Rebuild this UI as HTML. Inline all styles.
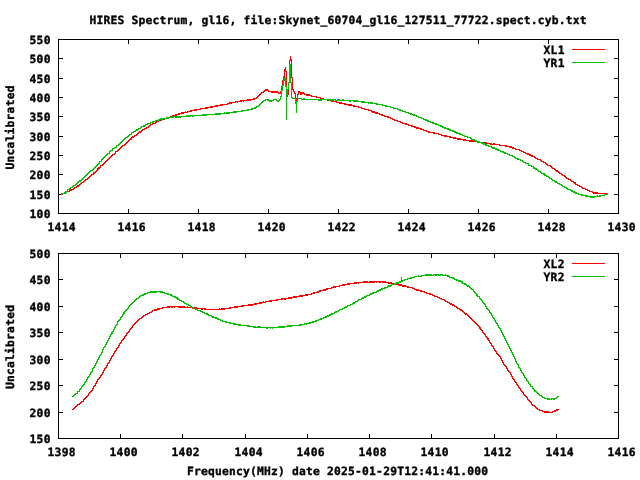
<!DOCTYPE html>
<html lang="en"><head><meta charset="utf-8"><title>HIRES Spectrum</title>
<style>html,body{margin:0;padding:0;background:#fff;overflow:hidden}svg{display:block}</style>
</head><body>
<svg width="640" height="480" viewBox="0 0 640 480">
<rect width="640" height="480" fill="#ffffff"/>
<path shape-rendering="crispEdges" fill="none" stroke="#000" stroke-width="1" d="M58.5 39.5H618.5V213.5H58.5ZM128.5 214v-5M128.5 39v5M198.5 214v-5M198.5 39v5M268.5 214v-5M268.5 39v5M338.5 214v-5M338.5 39v5M408.5 214v-5M408.5 39v5M478.5 214v-5M478.5 39v5M548.5 214v-5M548.5 39v5M58 194.5h5M619 194.5h-5M58 174.5h5M619 174.5h-5M58 155.5h5M619 155.5h-5M58 136.5h5M619 136.5h-5M58 116.5h5M619 116.5h-5M58 97.5h5M619 97.5h-5M58 78.5h5M619 78.5h-5M58 58.5h5M619 58.5h-5"/>
<path shape-rendering="crispEdges" fill="none" stroke="#000" stroke-width="1" d="M58.5 253.5H618.5V438.5H58.5ZM120.5 439v-5M120.5 253v5M182.5 439v-5M182.5 253v5M245.5 439v-5M245.5 253v5M307.5 439v-5M307.5 253v5M369.5 439v-5M369.5 253v5M431.5 439v-5M431.5 253v5M494.5 439v-5M494.5 253v5M556.5 439v-5M556.5 253v5M58 412.5h5M619 412.5h-5M58 385.5h5M619 385.5h-5M58 359.5h5M619 359.5h-5M58 332.5h5M619 332.5h-5M58 306.5h5M619 306.5h-5M58 279.5h5M619 279.5h-5"/>
<g shape-rendering="crispEdges" fill="none" stroke-width="1" stroke-linejoin="round">
<path stroke="#ff0000" d="M61.5 193v2m1 -2v2m1 -2v1m1 -1v1m1 -2v2m1 -3v2m1 -2v1m1 -1v1m1 -2v2m1 -3v2m1 -2v2m1 -2v1m1 -2v2m1 -3v2m1 -2v1m1 -2v2m1 -3v2m1 -2v2m1 -3v2m1 -3v2m1 -3v2m1 -2v1m1 -2v2m1 -3v2m1 -3v2m1 -2v1m1 -2v2m1 -3v2m1 -3v2m1 -3v2m1 -3v2m1 -2v1m1 -3v3m1 -3v2m1 -3v2m1 -3v2m1 -4v3m1 -4v3m1 -3v2m1 -4v3m1 -3v1m1 -2v2m1 -3v2m1 -3v2m1 -3v2m1 -3v2m1 -3v2m1 -3v2m1 -3v2m1 -3v2m1 -3v2m1 -3v2m1 -2v1m1 -2v2m1 -4v3m1 -3v1m1 -2v2m1 -3v2m1 -3v2m1 -3v2m1 -3v2m1 -3v2m1 -2v1m1 -2v2m1 -3v2m1 -3v2m1 -3v2m1 -3v2m1 -3v2m1 -3v2m1 -3v3m1 -4v2m1 -2v2m1 -3v2m1 -2v1m1 -2v2m1 -3v2m1 -3v2m1 -3v2m1 -2v2m1 -3v2m1 -3v2m1 -2v1m1 -2v2m1 -2v1m1 -2v2m1 -2v1m1 -2v2m1 -3v2m1 -3v2m1 -2v1m1 -2v2m1 -2v1m1 -1v1m1 -2v2m1 -3v2m1 -2v1m1 -2v2m1 -2v1m1 -1v1m1 -2v2m1 -2v1m1 -1v1m1 -2v2m1 -2v1m1 -1v1m1 -1v1m1 -2v2m1 -2v1m1 -2v2m1 -2v2m1 -3v2m1 -2v2m1 -2v1m1 -2v2m1 -2v2m1 -2v1m1 -2v2m1 -2v2m1 -2v1m1 -2v2m1 -2v2m1 -2v2m1 -2v1m1 -2v2m1 -1v1m1 -2v2m1 -2v1m1 -1v1m1 -2v2m1 -2v2m1 -2v1m1 -1v1m1 -2v2m1 -2v2m1 -2v2m1 -2v1m1 -1v1m1 -1v1m1 -2v2m1 -2v1m1 -1v1m1 -1v1m1 -1v1m1 -2v2m1 -2v2m1 -2v2m1 -2v1m1 -1v1m1 -2v2m1 -2v2m1 -2v2m1 -2v1m1 -1v1m1 -2v2m1 -2v2m1 -2v2m1 -2v1m1 -1v1m1 -2v2m1 -2v2m1 -2v2m1 -2v1m1 -1v1m1 -1v1m1 -1v1m1 -2v2m1 -2v1m1 -2v2m1 -2v2m1 -2v2m1 -2v1m1 -1v1m1 -1v1m1 -2v2m1 -2v1m1 -1v2m1 -2v1m1 -1v1m1 -2v2m1 -2v2m1 -2v1m1 -1v2m1 -2v1m1 -1v1m1 -1v1m1 -2v2m1 -2v2m1 -2v2m1 -2v2m1 -2v1m1 -1v1m1 -2v2m1 -2v2m1 -2v1m1 -2v2m1 -3v2m1 -3v2m1 -3v2m1 -3v2m1 -3v2m1 -2v1m1 -2v2m1 -3v2m1 -3v2m1 -2v2m1 -2v2m1 -1v2m1 -1v1m1 -1v1m1 -1v2m1 -2v2m1 -2v2m1 -2v2m1 -2v2m1 -2v2m1 -2v2m1 -1v2m1 -1v1m1 -3v3m1 -8v6m1 -12v7m1 -11v5m1 -12v8m1 -10v5m1 -1v21m1 -1v6m1 -15v13m1 -35v23m1 -27v5m1 -2v19m1 -1v13m1 -1v3m1 -1v3m1 -1v9m1 -4v4m1 -8v5m1 -8v4m1 -4v2m1 -1v3m1 -3v3m1 -3v2m1 -2v2m1 -1v2m1 -1v1m1 -1v2m1 -2v2m1 -2v2m1 -2v2m1 -1v1m1 -1v2m1 -1v1m1 -1v1m1 -1v1m1 -1v1m1 -1v2m1 -1v1m1 -1v1m1 -1v1m1 -1v2m1 -1v1m1 -1v2m1 -2v2m1 -1v1m1 -1v1m1 -1v1m1 -1v2m1 -2v2m1 -1v1m1 -1v1m1 -1v2m1 -2v2m1 -1v1m1 -1v1m1 -1v1m1 -1v2m1 -1v1m1 -1v1m1 -1v2m1 -2v2m1 -2v2m1 -1v1m1 -1v1m1 -1v2m1 -2v2m1 -1v1m1 -1v1m1 -1v2m1 -2v2m1 -2v2m1 -2v2m1 -1v1m1 -1v2m1 -2v2m1 -1v1m1 -1v1m1 -1v1m1 -1v2m1 -1v1m1 -1v1m1 -1v2m1 -1v1m1 -1v1m1 -1v2m1 -1v1m1 -1v1m1 -1v1m1 -1v2m1 -1v1m1 -1v1m1 -1v2m1 -1v2m1 -2v2m1 -2v2m1 -1v2m1 -2v2m1 -2v2m1 -1v1m1 -1v2m1 -1v1m1 -1v2m1 -2v2m1 -1v1m1 -1v2m1 -1v1m1 -1v1m1 -1v2m1 -2v2m1 -1v1m1 -1v2m1 -1v1m1 -1v2m1 -1v1m1 -1v2m1 -1v1m1 -1v1m1 -1v2m1 -1v1m1 -1v1m1 -1v2m1 -1v1m1 -1v2m1 -1v1m1 -1v1m1 -1v2m1 -2v2m1 -1v1m1 -1v2m1 -1v1m1 -1v1m1 -1v2m1 -2v2m1 -1v1m1 -1v2m1 -2v2m1 -1v2m1 -2v2m1 -2v2m1 -1v1m1 -1v2m1 -2v2m1 -1v1m1 -1v2m1 -1v1m1 -1v1m1 -1v2m1 -1v1m1 -1v2m1 -2v2m1 -1v1m1 -1v1m1 -1v1m1 -1v2m1 -2v2m1 -1v1m1 -1v1m1 -1v1m1 -1v2m1 -1v1m1 -1v1m1 -1v2m1 -1v1m1 -1v1m1 -1v2m1 -2v2m1 -2v2m1 -1v1m1 -1v1m1 -1v2m1 -2v2m1 -1v1m1 -1v1m1 -1v2m1 -2v2m1 -2v2m1 -1v1m1 -1v2m1 -2v2m1 -2v2m1 -2v2m1 -1v1m1 -1v1m1 -1v2m1 -2v2m1 -2v2m1 -1v1m1 -1v1m1 -1v1m1 -1v2m1 -2v2m1 -2v2m1 -2v2m1 -2v2m1 -2v2m1 -1v1m1 -1v1m1 -1v2m1 -2v2m1 -2v2m1 -1v1m1 -1v1m1 -1v1m1 -1v2m1 -2v2m1 -2v2m1 -2v2m1 -1v1m1 -1v1m1 -1v1m1 -1v2m1 -2v2m1 -1v1m1 -2v2m1 -2v2m1 -1v1m1 -1v1m1 -1v1m1 -1v1m1 -1v2m1 -1v1m1 -1v1m1 -1v1m1 -1v1m1 -1v1m1 -1v2m1 -2v2m1 -1v1m1 -1v1m1 -1v2m1 -2v2m1 -2v2m1 -1v2m1 -2v2m1 -1v1m1 -1v2m1 -1v1m1 -1v1m1 -1v1m1 -1v2m1 -1v1m1 -1v2m1 -1v1m1 -1v2m1 -1v1m1 -1v2m1 -1v1m1 -1v2m1 -2v2m1 -1v2m1 -2v2m1 -1v2m1 -2v2m1 -1v1m1 -1v2m1 -1v2m1 -1v1m1 -1v2m1 -1v1m1 -1v1m1 -1v2m1 -1v2m1 -1v1m1 -1v2m1 -1v1m1 -1v2m1 -1v2m1 -1v2m1 -1v1m1 -1v1m1 -1v2m1 -1v2m1 -1v2m1 -1v1m1 -1v2m1 -1v2m1 -1v2m1 -2v2m1 -1v2m1 -1v2m1 -1v1m1 -1v2m1 -1v2m1 -1v1m1 -1v2m1 -1v2m1 -1v2m1 -1v1m1 -1v2m1 -1v1m1 -1v2m1 -1v2m1 -1v1m1 -1v2m1 -1v2m1 -2v3m1 -1v1m1 -1v2m1 -1v1m1 -1v2m1 -1v1m1 -1v2m1 -1v2m1 -1v1m1 -1v1m1 -1v2m1 -1v1m1 -1v2m1 -1v1m1 -1v2m1 -1v1m1 -1v1m1 -1v2m1 -1v2m1 -2v2m1 -2v2m1 -2v2m1 -2v2m1 -1v1m1 -1v1m1 -1v1m1 -1v1m1 -1v1m1 -1v1m1 -1v1m1 -1v1m1 -1v2m1 -2v2"/>
<path stroke="#00c000" d="M61.5 193v2m1 -2v1m1 -1v1m1 -2v2m1 -3v2m1 -2v2m1 -4v3m1 -3v1m1 -2v2m1 -3v2m1 -2v1m1 -2v2m1 -3v2m1 -2v1m1 -2v2m1 -3v2m1 -3v2m1 -3v2m1 -3v2m1 -2v2m1 -3v2m1 -3v2m1 -3v2m1 -3v2m1 -3v2m1 -3v2m1 -3v2m1 -3v2m1 -3v2m1 -3v2m1 -2v1m1 -2v2m1 -3v2m1 -3v2m1 -3v2m1 -3v2m1 -3v2m1 -3v2m1 -4v3m1 -3v1m1 -3v3m1 -4v2m1 -3v2m1 -3v2m1 -3v2m1 -3v2m1 -3v2m1 -2v1m1 -3v3m1 -4v2m1 -2v1m1 -3v3m1 -3v1m1 -2v2m1 -2v1m1 -3v3m1 -3v1m1 -2v2m1 -3v2m1 -3v2m1 -3v2m1 -3v2m1 -3v2m1 -3v2m1 -3v2m1 -2v1m1 -2v2m1 -3v2m1 -3v2m1 -2v1m1 -3v3m1 -3v1m1 -2v2m1 -2v1m1 -2v2m1 -3v2m1 -2v2m1 -3v2m1 -2v1m1 -2v2m1 -3v2m1 -2v1m1 -2v2m1 -2v2m1 -3v2m1 -2v1m1 -2v2m1 -2v1m1 -1v1m1 -2v2m1 -2v1m1 -2v2m1 -2v2m1 -2v1m1 -2v2m1 -2v1m1 -1v1m1 -2v2m1 -2v1m1 -2v2m1 -2v2m1 -2v2m1 -2v1m1 -1v1m1 -1v1m1 -2v2m1 -2v2m1 -2v2m1 -2v1m1 -1v1m1 -1v1m1 -2v2m1 -2v2m1 -2v1m1 -1v2m1 -2v2m1 -2v2m1 -2v2m1 -2v2m1 -2v2m1 -2v1m1 -1v1m1 -1v1m1 -1v1m1 -1v1m1 -2v2m1 -2v2m1 -2v2m1 -2v2m1 -2v2m1 -2v1m1 -1v2m1 -2v2m1 -2v1m1 -1v1m1 -1v1m1 -1v1m1 -1v1m1 -1v1m1 -1v1m1 -1v1m1 -2v2m1 -2v2m1 -2v2m1 -2v2m1 -2v2m1 -2v1m1 -1v1m1 -1v1m1 -1v1m1 -1v1m1 -1v1m1 -1v1m1 -1v1m1 -2v2m1 -2v2m1 -2v2m1 -2v2m1 -2v2m1 -2v2m1 -2v1m1 -1v1m1 -1v1m1 -2v2m1 -1v1m1 -2v2m1 -2v2m1 -2v2m1 -2v2m1 -2v1m1 -1v1m1 -1v1m1 -2v2m1 -2v2m1 -2v2m1 -2v2m1 -2v1m1 -1v1m1 -1v1m1 -1v1m1 -2v2m1 -2v2m1 -2v1m1 -1v1m1 -1v1m1 -1v1m1 -2v2m1 -2v2m1 -2v1m1 -1v1m1 -2v2m1 -2v2m1 -2v1m1 -2v2m1 -2v2m1 -3v2m1 -2v1m1 -2v2m1 -3v2m1 -3v2m1 -3v2m1 -3v2m1 -3v2m1 -2v1m1 -2v2m1 -2v1m1 -1v2m1 -2v2m1 -1v2m1 -2v2m1 -2v2m1 -2v1m1 -2v2m1 -2v1m1 -1v1m1 -1v2m1 -1v2m1 -2v2m1 -3v2m1 -5v4m1 -10v7m1 -12v6m1 -11v6m1 -9v4m1 -4v10m1 -1v34m1 -31v6m1 -13v8m1 -26v19m1 -19v19m1 -1v16m1 -1v2m1 -1v1m1 -1v1m1 -1v6m1 -3v12m1 -15v4m1 -4v1m1 -1v1m1 -1v1m1 -1v2m1 -1v1m1 -2v2m1 -2v2m1 -1v1m1 -1v1m1 -1v1m1 -1v1m1 -1v1m1 -1v1m1 -1v1m1 -1v1m1 -1v1m1 -1v1m1 -1v1m1 -1v1m1 -1v1m1 -1v2m1 -2v2m1 -2v2m1 -2v2m1 -2v1m1 -1v1m1 -1v1m1 -1v1m1 -1v1m1 -1v1m1 -1v2m1 -2v2m1 -2v1m1 -1v2m1 -2v2m1 -2v2m1 -2v1m1 -1v2m1 -1v1m1 -2v2m1 -2v2m1 -2v2m1 -1v1m1 -1v1m1 -2v2m1 -2v2m1 -1v1m1 -1v1m1 -1v1m1 -1v1m1 -1v1m1 -1v2m1 -2v2m1 -2v1m1 -1v1m1 -1v2m1 -2v2m1 -2v2m1 -2v2m1 -2v2m1 -1v1m1 -1v1m1 -1v1m1 -1v2m1 -2v2m1 -2v2m1 -2v2m1 -1v1m1 -1v1m1 -1v1m1 -1v2m1 -2v1m1 -1v2m1 -2v2m1 -2v2m1 -1v1m1 -1v1m1 -1v1m1 -1v2m1 -2v2m1 -1v1m1 -1v1m1 -1v1m1 -1v1m1 -1v2m1 -1v1m1 -1v1m1 -1v2m1 -2v2m1 -1v1m1 -1v1m1 -1v1m1 -1v2m1 -1v1m1 -1v1m1 -1v2m1 -1v1m1 -1v1m1 -1v1m1 -1v2m1 -1v1m1 -1v2m1 -2v2m1 -1v1m1 -1v2m1 -1v1m1 -1v1m1 -1v2m1 -1v1m1 -1v1m1 -1v2m1 -1v1m1 -1v2m1 -2v2m1 -1v1m1 -1v2m1 -2v2m1 -1v1m1 -1v2m1 -1v1m1 -1v2m1 -1v1m1 -1v1m1 -1v2m1 -1v1m1 -1v2m1 -1v1m1 -1v2m1 -2v2m1 -1v2m1 -2v2m1 -1v1m1 -1v2m1 -1v1m1 -1v2m1 -2v2m1 -1v1m1 -1v2m1 -2v2m1 -1v1m1 -1v2m1 -1v1m1 -1v2m1 -2v2m1 -1v2m1 -2v2m1 -1v2m1 -2v2m1 -1v1m1 -1v2m1 -2v2m1 -1v2m1 -2v2m1 -1v1m1 -1v2m1 -2v2m1 -1v2m1 -2v2m1 -1v2m1 -2v2m1 -1v1m1 -1v2m1 -2v2m1 -1v1m1 -1v2m1 -1v1m1 -1v2m1 -1v1m1 -1v1m1 -1v2m1 -1v1m1 -1v1m1 -1v2m1 -1v2m1 -1v1m1 -1v1m1 -1v2m1 -1v1m1 -1v2m1 -1v1m1 -1v2m1 -2v2m1 -1v1m1 -1v2m1 -2v2m1 -1v2m1 -2v2m1 -1v2m1 -2v2m1 -1v1m1 -1v2m1 -1v1m1 -1v1m1 -1v2m1 -1v2m1 -2v2m1 -2v2m1 -1v2m1 -2v2m1 -1v2m1 -2v2m1 -1v1m1 -1v2m1 -1v1m1 -1v2m1 -2v2m1 -1v2m1 -2v2m1 -1v1m1 -1v2m1 -1v1m1 -1v2m1 -1v1m1 -1v1m1 -1v2m1 -1v1m1 -1v2m1 -1v2m1 -1v1m1 -1v2m1 -2v2m1 -1v1m1 -1v2m1 -1v1m1 -1v2m1 -1v2m1 -1v1m1 -1v2m1 -1v1m1 -1v1m1 -1v3m1 -1v1m1 -1v1m1 -1v2m1 -1v1m1 -1v3m1 -2v2m1 -1v2m1 -2v2m1 -1v2m1 -1v2m1 -1v1m1 -1v2m1 -1v2m1 -1v1m1 -1v2m1 -2v3m1 -2v2m1 -1v2m1 -1v1m1 -1v2m1 -1v2m1 -1v1m1 -1v2m1 -1v2m1 -1v1m1 -1v2m1 -1v2m1 -2v2m1 -1v2m1 -1v1m1 -1v2m1 -1v1m1 -1v2m1 -1v2m1 -1v1m1 -1v2m1 -1v1m1 -1v2m1 -1v2m1 -1v1m1 -1v1m1 -1v2m1 -1v2m1 -2v2m1 -1v2m1 -2v2m1 -1v2m1 -2v2m1 -1v1m1 -1v2m1 -1v1m1 -1v1m1 -1v2m1 -2v2m1 -1v1m1 -1v1m1 -1v2m1 -2v2m1 -2v2m1 -1v1m1 -1v1m1 -1v2m1 -2v2m1 -2v2m1 -2v2m1 -2v2m1 -2v1m1 -1v1m1 -2v2m1 -1v1m1 -2v2m1 -2v2m1 -2v1m1 -1v1m1 -1v1m1 -2v2m1 -2v1m1 -1v1m1 -2v2"/>
<path stroke="#ff0000" d="M72.5 409v1m1 -2v2m1 -3v2m1 -3v2m1 -3v2m1 -3v2m1 -2v1m1 -2v2m1 -3v2m1 -3v2m1 -2v1m1 -3v3m1 -4v2m1 -3v2m1 -3v2m1 -3v2m1 -4v3m1 -4v2m1 -3v2m1 -3v2m1 -4v3m1 -5v3m1 -4v2m1 -4v3m1 -5v3m1 -5v3m1 -4v2m1 -3v2m1 -4v3m1 -4v2m1 -4v3m1 -5v3m1 -5v3m1 -4v2m1 -4v3m1 -5v3m1 -4v2m1 -4v3m1 -5v3m1 -5v3m1 -4v2m1 -4v3m1 -5v3m1 -4v2m1 -4v3m1 -4v2m1 -4v3m1 -5v3m1 -4v2m1 -4v3m1 -4v2m1 -3v2m1 -4v3m1 -4v2m1 -4v3m1 -4v2m1 -3v2m1 -4v3m1 -4v2m1 -3v2m1 -4v3m1 -4v2m1 -3v2m1 -3v2m1 -3v2m1 -3v2m1 -3v2m1 -3v2m1 -2v1m1 -2v2m1 -3v2m1 -3v2m1 -2v1m1 -2v2m1 -2v1m1 -2v2m1 -2v1m1 -2v2m1 -2v1m1 -2v2m1 -3v2m1 -2v1m1 -2v2m1 -2v2m1 -2v2m1 -3v2m1 -2v2m1 -2v2m1 -2v1m1 -1v1m1 -2v2m1 -2v1m1 -1v1m1 -1v1m1 -1v1m1 -2v2m1 -2v2m1 -2v2m1 -2v1m1 -1v2m1 -2v2m1 -2v1m1 -1v2m1 -2v1m1 -1v1m1 -1v1m1 -1v2m1 -2v2m1 -2v2m1 -2v2m1 -2v2m1 -2v2m1 -2v2m1 -1v1m1 -1v1m1 -2v2m1 -1v1m1 -1v1m1 -1v1m1 -1v1m1 -1v2m1 -2v2m1 -2v2m1 -2v1m1 -1v2m1 -1v1m1 -1v1m1 -1v1m1 -1v1m1 -1v2m1 -2v2m1 -2v1m1 -1v2m1 -2v2m1 -1v1m1 -1v1m1 -1v1m1 -1v1m1 -1v1m1 -1v1m1 -1v1m1 -1v1m1 -1v1m1 -1v1m1 -1v1m1 -1v1m1 -1v1m1 -2v2m1 -1v1m1 -2v2m1 -2v2m1 -2v2m1 -2v2m1 -2v1m1 -1v1m1 -1v1m1 -1v1m1 -2v2m1 -2v2m1 -2v1m1 -1v1m1 -1v1m1 -2v2m1 -2v2m1 -2v2m1 -2v2m1 -2v1m1 -1v1m1 -1v1m1 -2v2m1 -2v2m1 -2v2m1 -2v1m1 -1v1m1 -1v1m1 -1v1m1 -2v2m1 -2v2m1 -2v2m1 -2v2m1 -2v2m1 -2v1m1 -2v2m1 -2v2m1 -2v2m1 -2v1m1 -1v1m1 -2v2m1 -2v2m1 -2v2m1 -2v1m1 -2v2m1 -1v1m1 -2v2m1 -2v1m1 -1v1m1 -1v1m1 -2v2m1 -2v2m1 -2v2m1 -2v1m1 -1v1m1 -1v1m1 -1v1m1 -2v2m1 -2v2m1 -2v1m1 -1v1m1 -1v1m1 -2v2m1 -2v2m1 -2v1m1 -1v2m1 -2v2m1 -2v1m1 -1v1m1 -2v2m1 -2v2m1 -2v2m1 -2v2m1 -2v1m1 -2v2m1 -2v2m1 -2v2m1 -2v2m1 -2v1m1 -1v1m1 -2v2m1 -2v2m1 -2v2m1 -2v2m1 -2v1m1 -1v1m1 -2v2m1 -2v2m1 -2v2m1 -2v1m1 -1v1m1 -1v1m1 -2v2m1 -2v1m1 -2v2m1 -2v2m1 -2v1m1 -1v1m1 -2v2m1 -2v2m1 -3v2m1 -2v2m1 -2v1m1 -1v1m1 -2v2m1 -2v2m1 -2v2m1 -3v2m1 -2v2m1 -2v1m1 -1v1m1 -1v1m1 -2v2m1 -2v1m1 -2v2m1 -2v2m1 -2v2m1 -2v1m1 -1v1m1 -1v1m1 -2v2m1 -2v1m1 -1v1m1 -2v2m1 -2v2m1 -2v2m1 -2v1m1 -1v1m1 -2v2m1 -2v2m1 -2v2m1 -2v1m1 -1v1m1 -1v1m1 -1v1m1 -2v2m1 -2v2m1 -2v2m1 -2v1m1 -1v2m1 -2v1m1 -1v1m1 -1v1m1 -1v1m1 -2v2m1 -2v2m1 -2v2m1 -2v2m1 -2v2m1 -1v1m1 -2v2m1 -2v2m1 -2v2m1 -2v2m1 -2v2m1 -2v2m1 -2v1m1 -1v2m1 -2v1m1 -1v1m1 -1v2m1 -2v2m1 -2v1m1 -1v2m1 -2v2m1 -2v2m1 -2v2m1 -1v1m1 -1v1m1 -1v2m1 -2v2m1 -2v2m1 -2v2m1 -1v1m1 -1v2m1 -2v2m1 -2v2m1 -2v2m1 -1v1m1 -1v2m1 -2v2m1 -2v2m1 -2v2m1 -1v2m1 -2v2m1 -2v2m1 -2v2m1 -1v1m1 -1v2m1 -2v2m1 -1v1m1 -1v1m1 -1v1m1 -1v2m1 -1v1m1 -1v2m1 -1v1m1 -1v2m1 -2v2m1 -2v2m1 -1v1m1 -1v2m1 -2v2m1 -1v1m1 -1v1m1 -1v2m1 -1v1m1 -1v2m1 -1v1m1 -1v1m1 -1v2m1 -2v2m1 -1v1m1 -1v2m1 -1v1m1 -1v2m1 -1v1m1 -1v1m1 -1v2m1 -1v1m1 -1v2m1 -1v1m1 -1v2m1 -1v1m1 -1v1m1 -1v2m1 -1v2m1 -1v1m1 -1v2m1 -1v1m1 -1v2m1 -1v2m1 -2v2m1 -1v2m1 -2v2m1 -1v2m1 -1v1m1 -1v2m1 -1v2m1 -1v1m1 -1v2m1 -1v2m1 -2v2m1 -1v2m1 -1v2m1 -1v2m1 -1v2m1 -2v2m1 -1v2m1 -1v2m1 -1v2m1 -1v2m1 -1v2m1 -1v2m1 -1v2m1 -1v2m1 -1v2m1 -1v2m1 -1v2m1 -1v2m1 -1v3m1 -2v3m1 -1v2m1 -1v3m1 -1v2m1 -1v2m1 -1v3m1 -1v2m1 -1v3m1 -2v3m1 -1v3m1 -1v2m1 -1v3m1 -1v2m1 -1v3m1 -1v3m1 -1v2m1 -1v3m1 -1v2m1 -1v2m1 -1v2m1 -1v3m1 -1v3m1 -1v3m1 -1v3m1 -1v2m1 -1v2m1 -1v3m1 -1v3m1 -1v2m1 -1v2m1 -1v3m1 -1v3m1 -1v3m1 -1v2m1 -1v3m1 -1v2m1 -1v3m1 -1v2m1 -1v3m1 -1v2m1 -1v3m1 -1v2m1 -1v2m1 -1v3m1 -1v2m1 -1v2m1 -1v2m1 -1v3m1 -1v2m1 -1v2m1 -1v2m1 -1v3m1 -1v2m1 -1v1m1 -1v2m1 -1v2m1 -1v2m1 -1v2m1 -1v1m1 -1v2m1 -1v1m1 -1v1m1 -1v2m1 -1v1m1 -1v2m1 -2v2m1 -2v2m1 -2v2m1 -2v2m1 -1v1m1 -1v1m1 -1v1m1 -2v2m1 -2v1m1 -2v2m1 -2v2m1 -3v2m1 -2v2m1 -2v1"/>
<path stroke="#00c000" d="M72.5 396v1m1 -2v2m1 -3v2m1 -3v2m1 -2v1m1 -3v3m1 -3v1m1 -3v3m1 -4v2m1 -4v3m1 -4v2m1 -3v2m1 -4v3m1 -4v2m1 -4v3m1 -5v3m1 -4v2m1 -4v3m1 -5v3m1 -4v2m1 -5v4m1 -5v2m1 -4v3m1 -5v3m1 -5v3m1 -5v3m1 -5v3m1 -5v3m1 -4v2m1 -4v3m1 -6v4m1 -6v3m1 -4v2m1 -4v3m1 -5v3m1 -5v3m1 -5v3m1 -5v3m1 -5v3m1 -5v3m1 -4v3m1 -5v3m1 -5v3m1 -5v3m1 -4v2m1 -5v4m1 -5v2m1 -3v2m1 -4v3m1 -4v2m1 -4v3m1 -5v3m1 -4v3m1 -4v2m1 -3v2m1 -3v2m1 -4v3m1 -4v2m1 -3v2m1 -3v2m1 -3v2m1 -3v2m1 -3v2m1 -3v2m1 -3v2m1 -2v1m1 -2v2m1 -3v2m1 -3v2m1 -2v1m1 -2v2m1 -2v2m1 -3v2m1 -2v2m1 -2v1m1 -2v2m1 -2v1m1 -1v1m1 -2v2m1 -2v2m1 -2v2m1 -2v2m1 -2v2m1 -2v2m1 -2v2m1 -2v1m1 -1v1m1 -1v1m1 -1v2m1 -2v2m1 -2v2m1 -1v1m1 -1v2m1 -1v1m1 -1v1m1 -1v2m1 -2v2m1 -1v1m1 -1v2m1 -2v2m1 -1v2m1 -1v1m1 -1v2m1 -2v2m1 -1v2m1 -2v3m1 -2v2m1 -1v2m1 -1v1m1 -1v2m1 -1v1m1 -1v2m1 -1v2m1 -1v1m1 -1v2m1 -1v1m1 -1v2m1 -1v1m1 -1v2m1 -1v2m1 -1v1m1 -1v2m1 -1v1m1 -1v2m1 -1v1m1 -1v2m1 -1v1m1 -1v1m1 -1v2m1 -1v1m1 -1v2m1 -1v1m1 -1v2m1 -1v1m1 -1v2m1 -2v2m1 -1v2m1 -1v1m1 -1v1m1 -1v2m1 -1v2m1 -2v2m1 -1v1m1 -1v2m1 -2v2m1 -1v2m1 -2v2m1 -1v1m1 -1v2m1 -1v1m1 -1v2m1 -1v1m1 -1v1m1 -1v2m1 -2v2m1 -1v1m1 -1v1m1 -1v2m1 -2v2m1 -1v1m1 -1v1m1 -1v2m1 -2v2m1 -2v2m1 -1v1m1 -1v1m1 -1v2m1 -2v2m1 -2v2m1 -1v1m1 -1v1m1 -1v1m1 -1v1m1 -1v1m1 -1v1m1 -1v2m1 -2v2m1 -2v2m1 -1v1m1 -1v1m1 -1v1m1 -1v2m1 -2v2m1 -2v2m1 -1v1m1 -2v2m1 -2v2m1 -2v2m1 -2v2m1 -1v1m1 -1v1m1 -1v1m1 -1v1m1 -1v1m1 -1v2m1 -2v2m1 -2v1m1 -1v1m1 -1v2m1 -2v1m1 -1v2m1 -2v1m1 -1v1m1 -1v1m1 -1v1m1 -1v1m1 -2v2m1 -2v2m1 -2v2m1 -2v2m1 -2v2m1 -2v2m1 -2v2m1 -2v1m1 -1v1m1 -2v2m1 -2v2m1 -2v2m1 -2v2m1 -2v2m1 -2v1m1 -1v1m1 -1v1m1 -1v1m1 -1v1m1 -1v1m1 -1v1m1 -2v2m1 -2v2m1 -2v2m1 -2v1m1 -1v1m1 -2v2m1 -2v1m1 -1v2m1 -2v1m1 -1v1m1 -2v2m1 -2v2m1 -2v1m1 -2v2m1 -2v2m1 -2v1m1 -2v2m1 -2v2m1 -2v1m1 -2v2m1 -2v1m1 -2v2m1 -2v2m1 -2v1m1 -2v2m1 -2v1m1 -2v2m1 -2v2m1 -3v2m1 -2v2m1 -3v2m1 -2v2m1 -3v2m1 -2v2m1 -2v1m1 -2v2m1 -3v2m1 -2v2m1 -2v1m1 -2v2m1 -3v2m1 -2v1m1 -1v1m1 -2v2m1 -2v1m1 -2v2m1 -3v2m1 -2v2m1 -3v2m1 -2v1m1 -1v1m1 -2v2m1 -2v1m1 -2v2m1 -3v2m1 -2v2m1 -3v2m1 -2v1m1 -2v2m1 -3v2m1 -2v1m1 -1v1m1 -2v2m1 -3v2m1 -2v2m1 -3v2m1 -2v2m1 -3v2m1 -2v1m1 -1v1m1 -2v2m1 -3v2m1 -2v2m1 -3v2m1 -2v2m1 -2v1m1 -1v1m1 -2v2m1 -3v2m1 -2v2m1 -3v2m1 -2v2m1 -3v2m1 -2v2m1 -2v1m1 -2v2m1 -2v2m1 -2v1m1 -2v2m1 -3v2m1 -2v2m1 -2v2m1 -3v2m1 -2v1m1 -1v1m1 -2v2m1 -2v2m1 -3v2m1 -2v2m1 -2v2m1 -3v2m1 -2v2m1 -6v5m1 -2v2m1 -2v1m1 -2v2m1 -2v1m1 -1v1m1 -2v2m1 -2v1m1 -1v1m1 -2v2m1 -2v2m1 -2v1m1 -1v1m1 -2v2m1 -2v1m1 -1v1m1 -1v1m1 -2v2m1 -1v1m1 -1v1m1 -2v2m1 -2v1m1 -1v1m1 -1v1m1 -2v2m1 -2v2m1 -2v2m1 -2v2m1 -2v2m1 -2v2m1 -2v2m1 -1v1m1 -2v2m1 -2v1m1 -1v2m1 -2v2m1 -2v1m1 -1v2m1 -2v2m1 -2v2m1 -2v1m1 -1v2m1 -1v1m1 -1v1m1 -2v2m1 -1v1m1 -1v2m1 -2v2m1 -1v2m1 -1v1m1 -1v1m1 -1v2m1 -2v2m1 -1v2m1 -1v1m1 -1v2m1 -2v2m1 -1v2m1 -2v2m1 -2v2m1 -1v2m1 -2v3m1 -1v1m1 -1v2m1 -2v2m1 -1v2m1 -1v2m1 -2v2m1 -1v2m1 -1v2m1 -1v2m1 -1v1m1 -1v3m1 -1v2m1 -1v2m1 -1v3m1 -2v3m1 -1v1m1 -1v3m1 -1v2m1 -1v2m1 -1v3m1 -1v2m1 -1v2m1 -1v3m1 -1v3m1 -1v2m1 -1v2m1 -1v3m1 -1v2m1 -1v3m1 -1v3m1 -1v2m1 -1v3m1 -1v3m1 -1v2m1 -1v3m1 -1v3m1 -1v2m1 -1v3m1 -1v3m1 -1v3m1 -1v3m1 -1v3m1 -1v3m1 -1v3m1 -1v3m1 -1v3m1 -1v3m1 -1v3m1 -1v3m1 -1v3m1 -1v3m1 -1v3m1 -1v4m1 -1v3m1 -1v2m1 -1v4m1 -1v2m1 -1v3m1 -1v3m1 -1v2m1 -1v3m1 -1v3m1 -1v2m1 -1v3m1 -1v2m1 -1v3m1 -1v2m1 -1v3m1 -1v1m1 -1v3m1 -1v2m1 -1v3m1 -2v2m1 -1v2m1 -1v2m1 -1v2m1 -1v2m1 -1v1m1 -1v2m1 -1v2m1 -1v1m1 -1v2m1 -1v1m1 -1v1m1 -1v2m1 -2v2m1 -2v2m1 -1v1m1 -2v2m1 -2v1m1 -1v2m1 -2v2m1 -2v1m1 -2v2m1 -3v2m1 -2v1"/>
<path stroke="#ff0000" d="M572 49.5H605"/>
<path stroke="#00c000" d="M572 62.5H605"/>
<path stroke="#ff0000" d="M572 263.5H605"/>
<path stroke="#00c000" d="M572 276.5H605"/>
</g>
<g font-family="'DejaVu Sans Mono','Liberation Mono',monospace" font-weight="bold" font-size="11.3px" fill="#000" stroke="#000" stroke-width="0.35" text-rendering="geometricPrecision">
<text x="89.5" y="24.0" textLength="497" lengthAdjust="spacing">HIRES Spectrum, gl16, file:Skynet_60704_gl16_127511_77722.spect.cyb.txt</text>
<text x="187.0" y="475.0" textLength="301" lengthAdjust="spacing">Frequency(MHz) date 2025-01-29T12:41:41.000</text>
<text x="29.5" y="218.3" textLength="21" lengthAdjust="spacing">100</text>
<text x="29.5" y="199.3" textLength="21" lengthAdjust="spacing">150</text>
<text x="29.5" y="179.3" textLength="21" lengthAdjust="spacing">200</text>
<text x="29.5" y="160.3" textLength="21" lengthAdjust="spacing">250</text>
<text x="29.5" y="141.3" textLength="21" lengthAdjust="spacing">300</text>
<text x="29.5" y="121.3" textLength="21" lengthAdjust="spacing">350</text>
<text x="29.5" y="102.3" textLength="21" lengthAdjust="spacing">400</text>
<text x="29.5" y="83.3" textLength="21" lengthAdjust="spacing">450</text>
<text x="29.5" y="63.3" textLength="21" lengthAdjust="spacing">500</text>
<text x="29.5" y="44.3" textLength="21" lengthAdjust="spacing">550</text>
<text x="29.5" y="443.3" textLength="21" lengthAdjust="spacing">150</text>
<text x="29.5" y="417.3" textLength="21" lengthAdjust="spacing">200</text>
<text x="29.5" y="390.3" textLength="21" lengthAdjust="spacing">250</text>
<text x="29.5" y="364.3" textLength="21" lengthAdjust="spacing">300</text>
<text x="29.5" y="337.3" textLength="21" lengthAdjust="spacing">350</text>
<text x="29.5" y="311.3" textLength="21" lengthAdjust="spacing">400</text>
<text x="29.5" y="284.3" textLength="21" lengthAdjust="spacing">450</text>
<text x="29.5" y="258.3" textLength="21" lengthAdjust="spacing">500</text>
<text x="47.5" y="230.7" textLength="28" lengthAdjust="spacing">1414</text>
<text x="117.5" y="230.7" textLength="28" lengthAdjust="spacing">1416</text>
<text x="187.5" y="230.7" textLength="28" lengthAdjust="spacing">1418</text>
<text x="257.5" y="230.7" textLength="28" lengthAdjust="spacing">1420</text>
<text x="327.5" y="230.7" textLength="28" lengthAdjust="spacing">1422</text>
<text x="397.5" y="230.7" textLength="28" lengthAdjust="spacing">1424</text>
<text x="467.5" y="230.7" textLength="28" lengthAdjust="spacing">1426</text>
<text x="537.5" y="230.7" textLength="28" lengthAdjust="spacing">1428</text>
<text x="607.5" y="230.7" textLength="28" lengthAdjust="spacing">1430</text>
<text x="47.5" y="455.7" textLength="28" lengthAdjust="spacing">1398</text>
<text x="109.5" y="455.7" textLength="28" lengthAdjust="spacing">1400</text>
<text x="171.5" y="455.7" textLength="28" lengthAdjust="spacing">1402</text>
<text x="234.5" y="455.7" textLength="28" lengthAdjust="spacing">1404</text>
<text x="296.5" y="455.7" textLength="28" lengthAdjust="spacing">1406</text>
<text x="358.5" y="455.7" textLength="28" lengthAdjust="spacing">1408</text>
<text x="420.5" y="455.7" textLength="28" lengthAdjust="spacing">1410</text>
<text x="483.5" y="455.7" textLength="28" lengthAdjust="spacing">1412</text>
<text x="545.5" y="455.7" textLength="28" lengthAdjust="spacing">1414</text>
<text x="607.5" y="455.7" textLength="28" lengthAdjust="spacing">1416</text>
<text transform="translate(14.4 169.5) rotate(-90)" x="0" y="0" textLength="84" lengthAdjust="spacing">Uncalibrated</text>
<text transform="translate(14.4 389.0) rotate(-90)" x="0" y="0" textLength="84" lengthAdjust="spacing">Uncalibrated</text>
<text x="543.5" y="54.0" textLength="21" lengthAdjust="spacing">XL1</text>
<text x="543.5" y="67.0" textLength="21" lengthAdjust="spacing">YR1</text>
<text x="543.5" y="268.0" textLength="21" lengthAdjust="spacing">XL2</text>
<text x="543.5" y="281.0" textLength="21" lengthAdjust="spacing">YR2</text>
</g>
</svg>
</body></html>
